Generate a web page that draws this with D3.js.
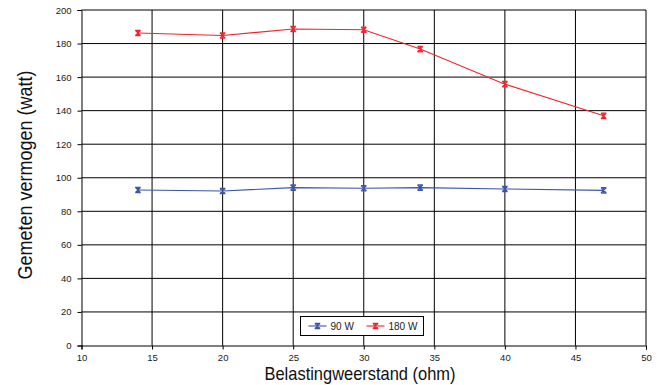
<!DOCTYPE html>
<html>
<head>
<meta charset="utf-8">
<script src="https://cdn.jsdelivr.net/npm/d3@7"></script>
<style>
  body { margin: 0; background: #fff; }
  svg { display: block; }
  .tick text { font-family: "Liberation Sans", Arial, sans-serif; font-size: 9.5px; fill: #222; }
</style>
</head>
<body>
<script>
// resistance values (ohm) on the x axis
var ohm = [14, 20, 25, 30, 34, 40, 47];
// measured power per series
var w90 = [92.7, 92.1, 94.1, 93.7, 94.1, 93.3, 92.5];
var w180 = [186.3, 184.8, 188.7, 188.2, 176.7, 155.8, 136.9];
var seriesNames = ["90 W", "180 W"];
var seriesColors = ["#3a55a8", "#f0242e"];
var xTicks = [10, 15, 20, 25, 30, 35, 40, 45, 50];
var yTicks = [0, 20, 40, 60, 80, 100, 120, 140, 160, 180, 200];

var width = 657, height = 385;

var svg = d3.select("body").append("svg")
  .attr("width", width)
  .attr("height", height);

var x = d3.scaleLinear().domain([10, 50]).range([81.5, 646]);
var y = d3.scaleLinear().domain([0, 200]).range([345.5, 10]);

//grid lines, black 1px
svg.append("g").selectAll("line")
  .data(yTicks.slice(1))
  .enter().append("line")
  .attr("x1", x(10)).attr("x2", x(50))
  .attr("y1", function(d) { return y(d); })
  .attr("y2", function(d) { return y(d); })
  .attr("stroke", "#000").attr("stroke-width", 1);

svg.append("g").selectAll("line")
  .data(xTicks.slice(1))
  .enter().append("line")
  .attr("y1", y(0)).attr("y2", y(200))
  .attr("x1", function(d) { return x(d); })
  .attr("x2", function(d) { return x(d); })
  .attr("stroke", "#000").attr("stroke-width", 1);

//axes
var yAxis = d3.axisLeft(y).tickValues(yTicks).tickSize(4).tickPadding(6);
var xAxis = d3.axisBottom(x).tickValues(xTicks).tickSize(4).tickPadding(5);

var gy = svg.append("g").attr("transform", "translate(" + x(10) + ",0)").call(yAxis);
var gx = svg.append("g").attr("transform", "translate(0," + y(0) + ")").call(xAxis);
[gx, gy].forEach(function(g) {
  g.select(".domain").attr("stroke", "#000");
  g.selectAll(".tick line").attr("stroke", "#000");
});

//series lines with star markers
var line = d3.line()
  .x(function(d, i) { return x(ohm[i]); })
  .y(function(d) { return y(d); });

function star(g, cx, cy, col) {
  var s = 2.7;
  g.append("path")
    .attr("d", "M" + (cx - s) + "," + (cy - s) + "L" + (cx + s) + "," + (cy + s) +
               "M" + (cx + s) + "," + (cy - s) + "L" + (cx - s) + "," + (cy + s) +
               "M" + cx + "," + (cy - s - 0.5) + "L" + cx + "," + (cy + s + 0.5) +
               "M" + (cx - s) + "," + (cy - s) + "L" + (cx + s) + "," + (cy - s) +
               "M" + (cx - s) + "," + (cy + s) + "L" + (cx + s) + "," + (cy + s))
    .attr("stroke", col).attr("stroke-width", 1.2).attr("fill", "none");
}

[w90, w180].forEach(function(vals, k) {
  var g = svg.append("g");
  g.append("path")
    .datum(vals)
    .attr("d", line)
    .attr("fill", "none")
    .attr("stroke", seriesColors[k])
    .attr("stroke-width", 1.1);
  vals.forEach(function(v, i) { star(g, x(ohm[i]), y(v), seriesColors[k]); });
});

//legend
var leg = svg.append("g").attr("transform", "translate(300.5,316.5)");
leg.append("rect")
  .attr("width", 123).attr("height", 19)
  .attr("fill", "#fff").attr("stroke", "#000").attr("stroke-width", 1);

var legX = [8, 66];
seriesNames.forEach(function(name, k) {
  var lg = leg.append("g").attr("transform", "translate(" + legX[k] + ",0)");
  lg.append("line")
    .attr("x1", 0).attr("x2", 18).attr("y1", 9.5).attr("y2", 9.5)
    .attr("stroke", seriesColors[k]).attr("stroke-width", 1.1);
  star(lg, 9, 9.5, seriesColors[k]);
  lg.append("text")
    .attr("x", 22).attr("y", 13.5)
    .attr("font-family", "Liberation Sans, Arial, sans-serif")
    .attr("font-size", 10).attr("fill", "#222")
    .text(name);
});

//axis titles
svg.append("text")
  .attr("x", 360).attr("y", 380)
  .attr("text-anchor", "middle")
  .attr("font-family", "Liberation Sans Narrow, Arial Narrow, Liberation Sans, sans-serif")
  .attr("font-size", 18.5)
  .attr("textLength", 191).attr("lengthAdjust", "spacingAndGlyphs")
  .attr("fill", "#111")
  .text("Belastingweerstand (ohm)");

svg.append("text")
  .attr("transform", "translate(32,175)rotate(-90)")
  .attr("text-anchor", "middle")
  .attr("font-family", "Liberation Sans Narrow, Arial Narrow, Liberation Sans, sans-serif")
  .attr("font-size", 19.5)
  .attr("textLength", 209).attr("lengthAdjust", "spacingAndGlyphs")
  .attr("fill", "#111")
  .text("Gemeten vermogen (watt)");
</script>
</body>
</html>
